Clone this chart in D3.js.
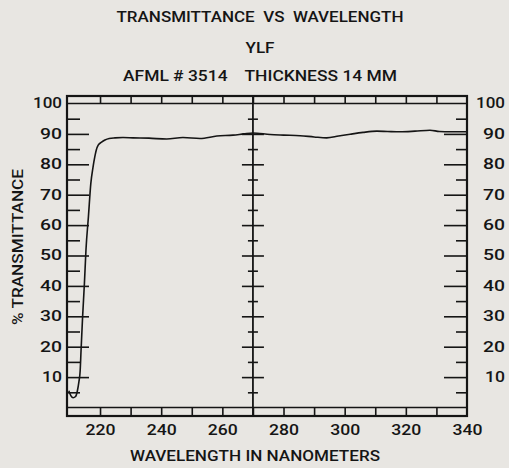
<!DOCTYPE html>
<html>
<head>
<meta charset="utf-8">
<script src="https://cdn.jsdelivr.net/npm/d3@7"></script>
<style>
  html, body { margin: 0; padding: 0; background: #e8e6e2; }
  svg { display: block; }
  text { font-family: Roboto, "DejaVu Sans", sans-serif; font-weight: 500; fill: #151515; white-space: pre; }
</style>
</head>
<body>
<svg id="chart" width="509" height="468"></svg>
<script>
// ---- data ----
const wavelength = [209.8, 210.5, 211.2, 212.0, 212.6, 213.1, 213.5, 213.8, 214.3, 214.9, 215.4, 216.2,
  217.0, 217.7, 218.3, 218.8, 219.4, 220.5, 221.6, 223.0, 224.9, 227.5, 230.8, 236.0, 241.8, 247.1,
  252.7, 258.2, 263.5, 267.0, 270.0, 275.6, 280.0, 285.4, 290.0, 294.1, 298.0, 301.8, 306.0, 310.5,
  314.0, 318.1, 323.0, 327.9, 331.0, 334.5, 340.0];
const transmittance = [5.5, 3.8, 3.2, 3.6, 5.5, 8.5, 12.0, 18.9, 29.8, 40.9, 51.8, 62.7,
  73.8, 79.0, 82.5, 84.8, 86.3, 87.3, 88.0, 88.5, 88.7, 88.8, 88.7, 88.6, 88.3, 88.8,
  88.5, 89.3, 89.6, 90.0, 90.3, 89.8, 89.6, 89.4, 89.0, 88.7, 89.3, 89.9, 90.5, 90.9,
  90.8, 90.7, 90.9, 91.2, 90.8, 90.7, 90.7];
const xTickLabels = [220, 240, 260, 280, 300, 320, 340];
const xMinorTicks = [220, 230, 240, 250, 260, 270, 280, 290, 300, 310, 320, 330];
const yTickLabels = [10, 20, 30, 40, 50, 60, 70, 80, 90, 100];
const yMajorTicks = [10, 20, 30, 40, 50, 60, 70, 80, 90];
const yMinorTicks = [5, 15, 25, 35, 45, 55, 65, 75, 85, 95];
const centerWavelength = 270;
const titleLines = ["TRANSMITTANCE  VS  WAVELENGTH", "YLF", "AFML # 3514    THICKNESS 14 MM"];
const xTitle = "WAVELENGTH IN NANOMETERS";
const yTitle = "% TRANSMITTANCE";

// ---- layout ----
const svg = d3.select("#chart");
const L = 67, R = 467, T = 96, B = 416;
const x = d3.scaleLinear().domain([209.2, 340]).range([L, R]);
const y = d3.scaleLinear().domain([0, 100]).range([407.5, 103.5]);
const ink = "#151515";

function clean(g) { g.select(".domain").remove(); g.selectAll("line").attr("stroke", ink).attr("stroke-width", 1.6); }

// titles
const titleSpec = [{y: 22, size: 15, len: 287}, {y: 53, size: 14, len: 29}, {y: 81, size: 14, len: 274}];
titleLines.forEach((t, i) => {
  svg.append("text").attr("x", 260).attr("y", titleSpec[i].y).attr("text-anchor", "middle")
    .attr("xml:space", "preserve")
    .attr("font-size", titleSpec[i].size).attr("textLength", titleSpec[i].len)
    .attr("lengthAdjust", "spacingAndGlyphs").text(t);
});

// frame
svg.append("rect").attr("x", L).attr("y", T).attr("width", R - L).attr("height", B - T)
  .attr("fill", "none").attr("stroke", ink).attr("stroke-width", 2.2);
// 100% and 0% lines
[100, 0].forEach(v => {
  svg.append("line").attr("x1", L).attr("x2", R).attr("y1", y(v)).attr("y2", y(v))
    .attr("stroke", ink).attr("stroke-width", 1.6);
});

// top ticks (between frame and 100% line)
svg.append("g").attr("transform", `translate(0,${T})`)
  .call(d3.axisBottom(x).tickValues(xMinorTicks).tickSize(y(100) - T).tickFormat(""))
  .call(clean);
// bottom ticks
svg.append("g").attr("transform", `translate(0,${B})`)
  .call(d3.axisTop(x).tickValues(xMinorTicks).tickSize(B - y(0)).tickFormat(""))
  .call(clean);
// bottom labels
const xl = svg.append("g").attr("transform", `translate(0,${B})`)
  .call(d3.axisBottom(x).tickValues(xTickLabels).tickSize(0).tickPadding(9))
  .call(clean);
xl.selectAll("text").attr("font-size", 14).attr("fill", ink)
  .style("font-family", "Roboto, sans-serif").style("font-weight", 500)
  .attr("textLength", 30).attr("lengthAdjust", "spacingAndGlyphs");

// left ticks
svg.append("g").attr("transform", `translate(${L},0)`)
  .call(d3.axisRight(y).tickValues(yMajorTicks).tickSize(22).tickFormat("")).call(clean);
svg.append("g").attr("transform", `translate(${L},0)`)
  .call(d3.axisRight(y).tickValues(yMinorTicks).tickSize(13).tickFormat("")).call(clean);
// right ticks
svg.append("g").attr("transform", `translate(${R},0)`)
  .call(d3.axisLeft(y).tickValues(yMajorTicks).tickSize(23).tickFormat("")).call(clean);
svg.append("g").attr("transform", `translate(${R},0)`)
  .call(d3.axisLeft(y).tickValues(yMinorTicks).tickSize(11).tickFormat("")).call(clean);

// center line with ticks
const cx = x(centerWavelength);
svg.append("line").attr("x1", cx).attr("x2", cx).attr("y1", T).attr("y2", B)
  .attr("stroke", ink).attr("stroke-width", 1.8);
[[yMajorTicks, 11], [yMinorTicks, 5]].forEach(([vals, s]) => {
  svg.append("g").attr("transform", `translate(${cx},0)`)
    .call(d3.axisLeft(y).tickValues(vals).tickSize(s).tickFormat("")).call(clean);
  svg.append("g").attr("transform", `translate(${cx},0)`)
    .call(d3.axisRight(y).tickValues(vals).tickSize(s).tickFormat("")).call(clean);
});

// y labels left & right
function yLabelLen(d) { return d >= 100 ? 29 : (d === 10 ? 20 : 22); }
const yl = svg.append("g").attr("transform", `translate(${L},0)`)
  .call(d3.axisLeft(y).tickValues(yTickLabels).tickSize(0).tickPadding(5)).call(clean);
yl.selectAll("text").attr("font-size", 14).attr("fill", ink)
  .style("font-family", "Roboto, sans-serif").style("font-weight", 500)
  .attr("textLength", yLabelLen).attr("lengthAdjust", "spacingAndGlyphs");
const yr = svg.append("g").attr("transform", `translate(${R},0)`)
  .call(d3.axisRight(y).tickValues(yTickLabels).tickSize(0).tickPadding(38)).call(clean);
yr.selectAll("text").attr("font-size", 14).attr("fill", ink).attr("text-anchor", "end")
  .style("font-family", "Roboto, sans-serif").style("font-weight", 500)
  .attr("textLength", yLabelLen).attr("lengthAdjust", "spacingAndGlyphs");

// axis titles
svg.append("text").attr("x", 255).attr("y", 461).attr("text-anchor", "middle")
  .attr("font-size", 14).attr("textLength", 250).attr("lengthAdjust", "spacingAndGlyphs").text(xTitle);
svg.append("text").attr("transform", "translate(23,247) rotate(-90)").attr("text-anchor", "middle")
  .attr("font-size", 14).attr("textLength", 156).attr("lengthAdjust", "spacingAndGlyphs").text(yTitle);

// curve
const pts = wavelength.map((w, i) => [w, transmittance[i]]);
svg.append("path").datum(pts)
  .attr("fill", "none").attr("stroke", ink).attr("stroke-width", 1.6)
  .attr("d", d3.line().x(d => x(d[0])).y(d => y(d[1])).curve(d3.curveMonotoneX));
</script>
</body>
</html>
